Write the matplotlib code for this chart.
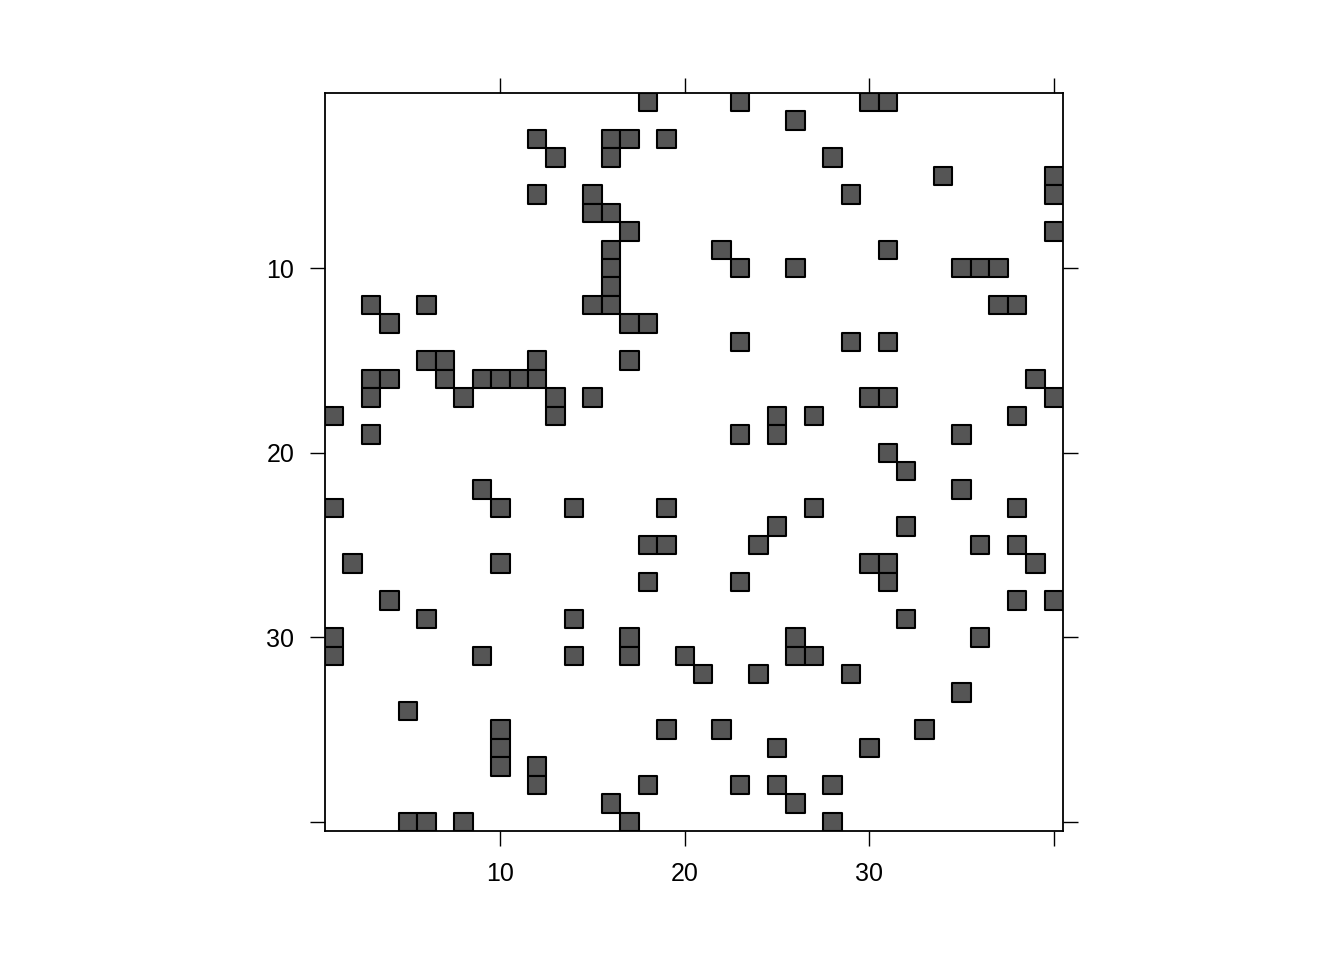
import matplotlib
matplotlib.use('Agg')
import matplotlib.pyplot as plt
from matplotlib.patches import Rectangle
from matplotlib.collections import PatchCollection

# nonzero entries of the 40x40 sparse matrix: (row, column lists)
rows = {
  1: [18, 23, 30, 31],
  2: [26],
  3: [12, 16, 17, 19],
  4: [13, 16, 28],
  5: [34, 40],
  6: [12, 15, 29, 40],
  7: [15, 16],
  8: [17, 40],
  9: [16, 22, 31],
  10: [16, 23, 26, 35, 36, 37],
  11: [16],
  12: [3, 6, 15, 16, 37, 38],
  13: [4, 17, 18],
  14: [23, 29, 31],
  15: [6, 7, 12, 17],
  16: [3, 4, 7, 9, 10, 11, 12, 39],
  17: [3, 8, 13, 15, 30, 31, 40],
  18: [1, 13, 25, 27, 38],
  19: [3, 23, 25, 35],
  20: [31],
  21: [32],
  22: [9, 35],
  23: [1, 10, 14, 19, 27, 38],
  24: [25, 32],
  25: [18, 19, 24, 36, 38],
  26: [2, 10, 30, 31, 39],
  27: [18, 23, 31],
  28: [4, 38, 40],
  29: [6, 14, 32],
  30: [1, 17, 26, 36],
  31: [1, 9, 14, 17, 20, 26, 27],
  32: [21, 24, 29],
  33: [35],
  34: [5],
  35: [10, 19, 22, 33],
  36: [10, 25, 30],
  37: [10, 12],
  38: [12, 18, 23, 25, 28],
  39: [16, 26],
  40: [5, 6, 8, 17, 28],
}
n = 40
tick_pos = [10, 20, 30, 40]
tick_labels = ['10', '20', '30', '']

plt.rcParams['font.family'] = ['Liberation Sans', 'DejaVu Sans']

fig = plt.figure(figsize=(13.44, 9.6), dpi=100)
ax = fig.add_axes([325/1344, 1 - 831/960, 738/1344, 738/960])

cells = []
for r, cols in rows.items():
  for c in cols:
    cells.append(Rectangle((c - 0.5, r - 0.5), 1, 1))
pc = PatchCollection(cells, facecolor='#555555', edgecolor='black', linewidth=1.5)
ax.add_collection(pc)

ax.set_xlim(0.5, n + 0.5)
ax.set_ylim(n + 0.5, 0.5)

ax.set_xticks(tick_pos)
ax.set_xticklabels(tick_labels)
ax.set_yticks(tick_pos)
ax.set_yticklabels(tick_labels)
ax.tick_params(direction='out', length=11, width=1, labelsize=18, pad=11,
               top=True, right=True, labeltop=False, labelright=False)
for s in ax.spines.values():
  s.set_linewidth(1.3)

fig.savefig("out.png", dpi=100)
